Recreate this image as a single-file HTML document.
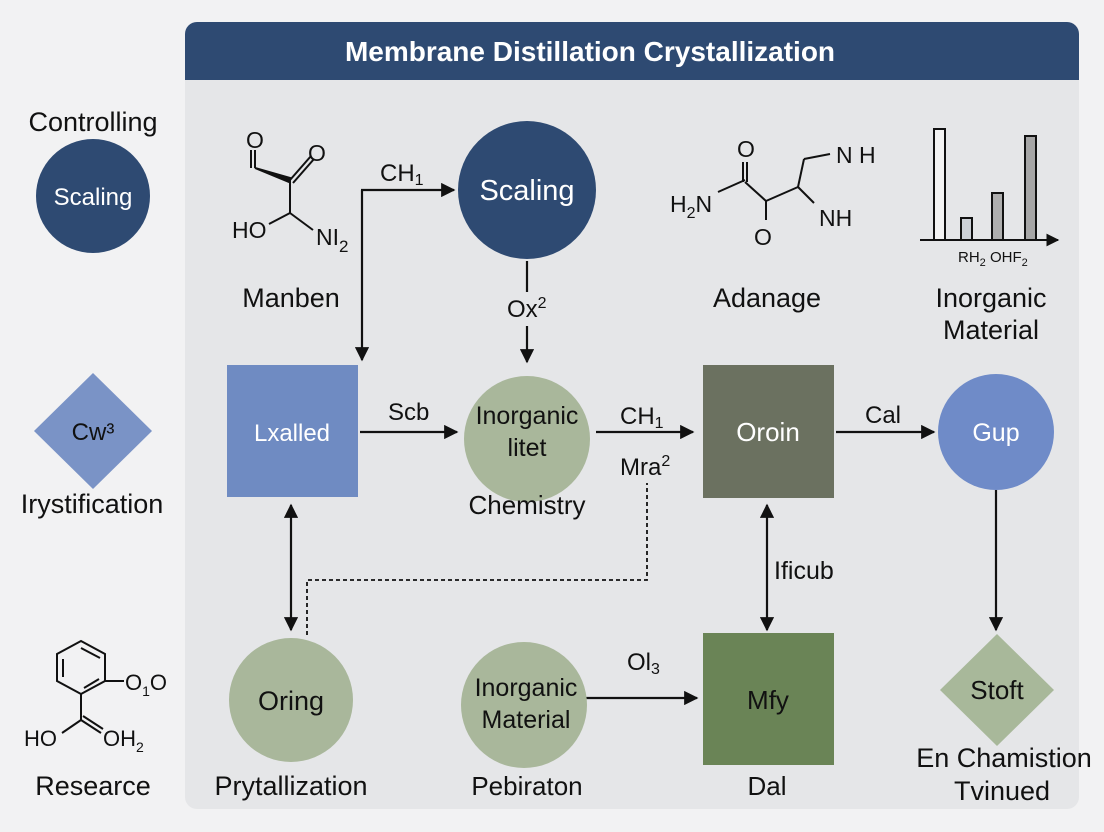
<!DOCTYPE html>
<html><head><meta charset="utf-8"><style>
html,body{margin:0;padding:0;background:#f2f2f3;}
svg{display:block;}
text{font-family:"Liberation Sans Narrow","Liberation Sans",sans-serif;fill:#111;}
</style></head><body>
<svg width="1104" height="832" viewBox="0 0 1104 832" xmlns="http://www.w3.org/2000/svg">
<defs>
<marker id="a" viewBox="0 0 10 10" refX="9" refY="5" markerWidth="6.5" markerHeight="6.5" orient="auto-start-reverse"><path d="M0,0L10,5L0,10z" fill="#111"/></marker>
</defs>
<rect x="0" y="0" width="1104" height="832" fill="#f2f2f3"/>
<rect x="185" y="22" width="894" height="787" rx="12" fill="#e5e6e8"/>
<path d="M185,34 a12,12 0 0 1 12,-12 h870 a12,12 0 0 1 12,12 v46 h-894z" fill="#2e4a72"/>
<text x="590" y="61" font-size="28" font-weight="bold" text-anchor="middle" style="fill:#fff">Membrane Distillation Crystallization</text>

<!-- left column -->
<text x="93" y="131" font-size="27" text-anchor="middle">Controlling</text>
<circle cx="93" cy="196" r="57" fill="#2e4a72"/>
<text x="93" y="205" font-size="24" text-anchor="middle" style="fill:#fff">Scaling</text>
<polygon points="93,373 152,431 93,489 34,431" fill="#7a93c6"/>
<text x="93" y="440" font-size="24" text-anchor="middle">Cw³</text>
<text x="92" y="513" font-size="27" text-anchor="middle">Irystification</text>
<g stroke="#111" stroke-width="2" fill="none">
<polygon points="81,641 105,654 105,681 81,694 57,681 57,654"/>
<line x1="81" y1="648" x2="100" y2="658"/><line x1="99" y1="679" x2="84" y2="688"/><line x1="63" y1="659" x2="63" y2="677"/>
<line x1="105" y1="681" x2="124" y2="681"/>
<line x1="81" y1="694" x2="81" y2="720"/><line x1="81" y1="720" x2="62" y2="733"/><line x1="81" y1="720" x2="101" y2="733"/><line x1="83" y1="716" x2="103" y2="729"/>
</g>
<text x="125" y="690" font-size="22">O<tspan font-size="14" dy="6">1</tspan><tspan dy="-6">O</tspan></text>
<text x="24" y="746" font-size="22">HO</text>
<text x="103" y="746" font-size="22">OH<tspan font-size="14" dy="6">2</tspan></text>
<text x="93" y="795" font-size="27" text-anchor="middle">Researce</text>

<!-- Manben molecule -->
<g stroke="#111" stroke-width="2" fill="none">
<line x1="251" y1="150" x2="251" y2="168"/><line x1="255" y1="150" x2="255" y2="168"/>
<polygon points="255,168 290,178 289,182" fill="#111"/>
<line x1="290" y1="180" x2="311" y2="156"/><line x1="293" y1="183" x2="314" y2="159"/>
<line x1="290" y1="180" x2="290" y2="213"/><line x1="290" y1="213" x2="269" y2="224"/><line x1="290" y1="213" x2="313" y2="230"/>
</g>
<text x="246" y="148" font-size="23">O</text>
<text x="308" y="161" font-size="23">O</text>
<text x="232" y="238" font-size="23">HO</text>
<text x="316" y="245" font-size="23">NI<tspan font-size="17" dy="7">2</tspan></text>
<text x="291" y="307" font-size="27" text-anchor="middle">Manben</text>

<!-- connectors -->
<g stroke="#111" stroke-width="2.2" fill="none">
<line x1="362" y1="190" x2="362" y2="360" marker-end="url(#a)"/>
<line x1="361" y1="190" x2="454" y2="190" marker-end="url(#a)"/>
<line x1="527" y1="261" x2="527" y2="292"/>
<line x1="527" y1="326" x2="527" y2="362" marker-end="url(#a)"/>
<line x1="360" y1="432" x2="457" y2="432" marker-end="url(#a)"/>
<line x1="596" y1="432" x2="693" y2="432" marker-end="url(#a)"/>
<line x1="836" y1="432" x2="934" y2="432" marker-end="url(#a)"/>
<line x1="996" y1="490" x2="996" y2="630" marker-end="url(#a)"/>
<line x1="291" y1="505" x2="291" y2="630" marker-start="url(#a)" marker-end="url(#a)"/>
<line x1="767" y1="505" x2="767" y2="630" marker-start="url(#a)" marker-end="url(#a)"/>
<line x1="582" y1="698" x2="697" y2="698" marker-end="url(#a)"/>
<polyline points="307,635 307,580 647,580 647,483" stroke-dasharray="4,3" stroke-width="1.8"/>
</g>
<text x="380" y="181" font-size="24">CH<tspan font-size="16" dy="4">1</tspan></text>
<circle cx="527" cy="190" r="69" fill="#2e4a72"/>
<text x="527" y="200" font-size="29" text-anchor="middle" style="fill:#fff">Scaling</text>
<text x="507" y="317" font-size="24">Ox<tspan font-size="16" dy="-9">2</tspan></text>

<!-- Adanage molecule -->
<g stroke="#111" stroke-width="2" fill="none">
<line x1="718" y1="192" x2="745" y2="180"/>
<line x1="743" y1="162" x2="743" y2="182"/><line x1="747" y1="162" x2="747" y2="182"/>
<line x1="745" y1="182" x2="766" y2="201"/><line x1="766" y1="201" x2="766" y2="220"/>
<line x1="766" y1="201" x2="798" y2="187"/><line x1="798" y1="187" x2="814" y2="203"/>
<line x1="798" y1="187" x2="804" y2="159"/><line x1="804" y1="159" x2="830" y2="154"/>
</g>
<text x="737" y="157" font-size="23">O</text>
<text x="670" y="212" font-size="23">H<tspan font-size="16" dy="6">2</tspan><tspan dy="-6">N</tspan></text>
<text x="754" y="245" font-size="23">O</text>
<text x="819" y="226" font-size="23">NH</text>
<text x="836" y="163" font-size="23">N H</text>
<text x="767" y="307" font-size="27" text-anchor="middle">Adanage</text>

<!-- bar chart -->
<g stroke="#111" stroke-width="2">
<rect x="934" y="129" width="11" height="111" fill="#f3f3f3"/>
<rect x="961" y="218" width="11" height="22" fill="#ccd0d6"/>
<rect x="992" y="193" width="11" height="47" fill="#aeaeae"/>
<rect x="1025" y="136" width="11" height="104" fill="#a6a6a6"/>
<line x1="920" y1="240" x2="1058" y2="240" marker-end="url(#a)"/>
</g>
<text x="958" y="262" font-size="15">RH<tspan font-size="11" dy="4">2</tspan><tspan dy="-4"> OHF</tspan><tspan font-size="11" dy="4">2</tspan></text>
<text x="991" y="307" font-size="27" text-anchor="middle">Inorganic</text>
<text x="991" y="339" font-size="27" text-anchor="middle">Material</text>

<!-- middle row -->
<rect x="227" y="365" width="131" height="132" fill="#6f8bc2"/>
<text x="292" y="441" font-size="24" text-anchor="middle" style="fill:#fff">Lxalled</text>
<text x="388" y="420" font-size="24">Scb</text>
<circle cx="527" cy="439" r="63" fill="#a9b79b"/>
<text x="527" y="424" font-size="25" text-anchor="middle">Inorganic</text>
<text x="527" y="456" font-size="25" text-anchor="middle">litet</text>
<text x="527" y="514" font-size="26" text-anchor="middle">Chemistry</text>
<text x="620" y="424" font-size="24">CH<tspan font-size="16" dy="4">1</tspan></text>
<text x="620" y="475" font-size="24">Mra<tspan font-size="16" dy="-9">2</tspan></text>
<rect x="703" y="365" width="131" height="133" fill="#6b7160"/>
<text x="768" y="441" font-size="26" text-anchor="middle" style="fill:#fff">Oroin</text>
<text x="865" y="423" font-size="24">Cal</text>
<circle cx="996" cy="432" r="58" fill="#6f8bc8"/>
<text x="996" y="441" font-size="25" text-anchor="middle" style="fill:#fff">Gup</text>
<text x="774" y="579" font-size="25">Ificub</text>

<!-- bottom row -->
<circle cx="291" cy="700" r="62" fill="#a9b79b"/>
<text x="291" y="710" font-size="27" text-anchor="middle">Oring</text>
<text x="291" y="795" font-size="27" text-anchor="middle">Prytallization</text>
<circle cx="524" cy="705" r="63" fill="#a9b79b"/>
<text x="526" y="696" font-size="25" text-anchor="middle">Inorganic</text>
<text x="526" y="728" font-size="25" text-anchor="middle">Material</text>
<text x="527" y="795" font-size="26" text-anchor="middle">Pebiraton</text>
<text x="627" y="670" font-size="24">Ol<tspan font-size="16" dy="4">3</tspan></text>
<rect x="703" y="633" width="131" height="132" fill="#6a8456"/>
<text x="768" y="709" font-size="26" text-anchor="middle">Mfy</text>
<text x="767" y="795" font-size="26" text-anchor="middle">Dal</text>
<polygon points="997,634 1054,690 997,746 940,690" fill="#a8b89a"/>
<text x="997" y="699" font-size="26" text-anchor="middle">Stoft</text>
<text x="1004" y="767" font-size="27" text-anchor="middle">En Chamistion</text>
<text x="1002" y="800" font-size="27" text-anchor="middle">Tvinued</text>
</svg>
</body></html>
